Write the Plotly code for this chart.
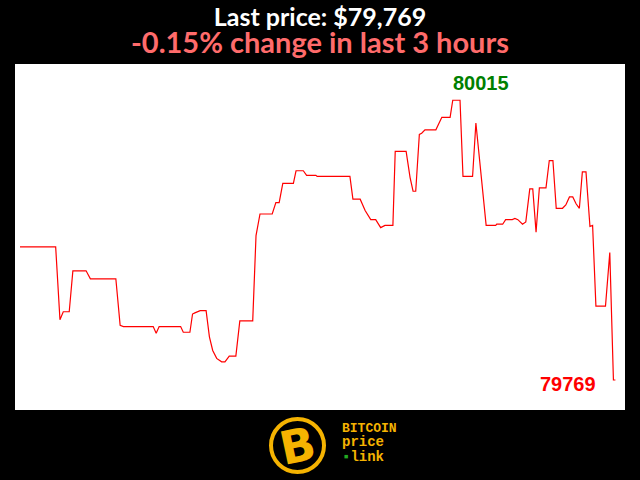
import plotly.graph_objects as go

# Minutes over the last 3 hours
minutes = [0, 10.8, 12.1, 13.1, 14.9, 16.0, 20.0, 21.3, 29.0, 30.3, 31.3, 40.3, 41.2, 42.1,
           48.6, 49.4, 51.4, 52.2, 52.9, 54.5, 56.3, 57.3, 58.3, 59.5, 61.0, 62.0, 63.3, 65.3,
           66.5, 70.4, 71.4, 72.6, 76.3, 77.4, 78.4, 79.5, 82.7, 83.5, 85.7, 86.7, 89.5, 89.9,
           99.8, 100.7, 102.9, 104.4, 106.1, 107.6, 109.1, 110.4, 112.8, 113.5, 116.8, 118.0,
           118.9, 119.7, 120.8, 121.5, 122.5, 125.8, 127.6, 130.1, 130.9, 133.1, 134.0, 136.9,
           137.9, 139.3, 141.0, 143.9, 144.2, 146.0, 146.9, 148.9, 149.7, 150.6, 152.0, 153.0,
           154.2, 155.1, 156.1, 157.1, 159.1, 160.1, 161.2, 162.2, 164.1, 165.1, 166.2, 167.2,
           168.2, 169.2, 170.1, 171.2, 172.4, 173.2, 174.2, 177.1, 178.4, 179.5, 180.1]

prices = [79886, 79886, 79822, 79829, 79829, 79865, 79865, 79858, 79858, 79817, 79816, 79816,
          79810, 79816, 79816, 79811, 79811, 79827, 79828, 79830, 79830, 79807, 79795, 79788,
          79785, 79785, 79790, 79790, 79821, 79821, 79896, 79915, 79915, 79925, 79925, 79942,
          79942, 79953, 79953, 79949, 79949, 79948, 79948, 79928, 79928, 79918, 79910, 79910,
          79903, 79905, 79905, 79970, 79970, 79947, 79935, 79935, 79985, 79986, 79989, 79989,
          80000, 80000, 80015, 80015, 79948, 79948, 79995, 79955, 79905, 79905, 79906, 79906,
          79910, 79910, 79911, 79910, 79906, 79908, 79937, 79937, 79899, 79938, 79938, 79962,
          79962, 79920, 79920, 79923, 79930, 79930, 79924, 79920, 79952, 79952, 79904, 79905,
          79834, 79834, 79881, 79769, 79769]

title_line1 = "Last price: $79,769"
title_line2 = "-0.15% change in last 3 hours"

W, H = 640, 480
L, R, T, B = 15, 15, 64, 70

def px(x):
    return (x - L) / (W - L - R)

def py(y):
    return (H - B - y) / (H - T - B)

max_i = prices.index(max(prices))
last_i = len(prices) - 1

fig = go.Figure()
fig.add_trace(go.Scatter(x=minutes, y=prices, mode="lines",
                         line=dict(color="#ff0000", width=1.2),
                         hoverinfo="skip", showlegend=False))

gold = "#f5b301"
title_text = ("<span style='font-size:25px'><b>" + title_line1 + "</b></span><br>"
              "<span style='font-size:29px;color:#ff6b6b'><b>" + title_line2 + "</b></span>")

annotations = [
    dict(x=0.5, y=py(30), xref="paper", yref="paper", text=title_text,
         showarrow=False, font=dict(family="Lato", size=21, color="#ffffff"),
         xanchor="center", yanchor="middle", align="center"),
    dict(x=minutes[max_i], y=prices[max_i], text="<b>%d</b>" % prices[max_i], showarrow=False,
         xanchor="left", yanchor="bottom", yshift=4, xshift=-2,
         font=dict(family="Liberation Sans", size=20, color="#008000")),
    dict(x=minutes[last_i], y=prices[last_i], text="<b>%d</b>" % prices[last_i], showarrow=False,
         xanchor="right", yanchor="middle", yshift=-4, xshift=-17,
         font=dict(family="Liberation Sans", size=20, color="#ff0000")),
    # logo
    dict(x=px(297.5), y=py(446), xref="paper", yref="paper", text="<b>B</b>", showarrow=False,
         textangle=-12, font=dict(family="DejaVu Sans", size=46, color=gold),
         xanchor="center", yanchor="middle"),
    dict(x=px(340), y=py(443), xref="paper", yref="paper",
         text=("<span style='font-size:13px'><b>BITCOIN</b></span><br>"
               "<span style='font-size:14px'><b>price</b></span><br>"
               "<span style='font-size:14px'><span style='color:#22aa22'>\u25aa</span><b>link</b></span>"),
         showarrow=False, align="left",
         font=dict(family="Liberation Mono", size=11, color=gold),
         xanchor="left", yanchor="middle"),
]

shapes = [
    dict(type="circle", xref="paper", yref="paper",
         x0=px(271), x1=px(324), y0=py(472), y1=py(419),
         line=dict(color=gold, width=4)),
]

fig.update_layout(
    width=W, height=H,
    margin=dict(l=L, r=R, t=T, b=B),
    paper_bgcolor="#000000",
    plot_bgcolor="#ffffff",
    xaxis=dict(range=[-1.5, 183.0], visible=False, showgrid=False, zeroline=False),
    yaxis=dict(range=[79742.6, 80046.9], visible=False, showgrid=False, zeroline=False),
    annotations=annotations,
    shapes=shapes,
    showlegend=False,
)

fig.write_html("out.html", config={"displayModeBar": False},
               post_script="document.body.style.margin='0px';document.body.style.background='#000';")
